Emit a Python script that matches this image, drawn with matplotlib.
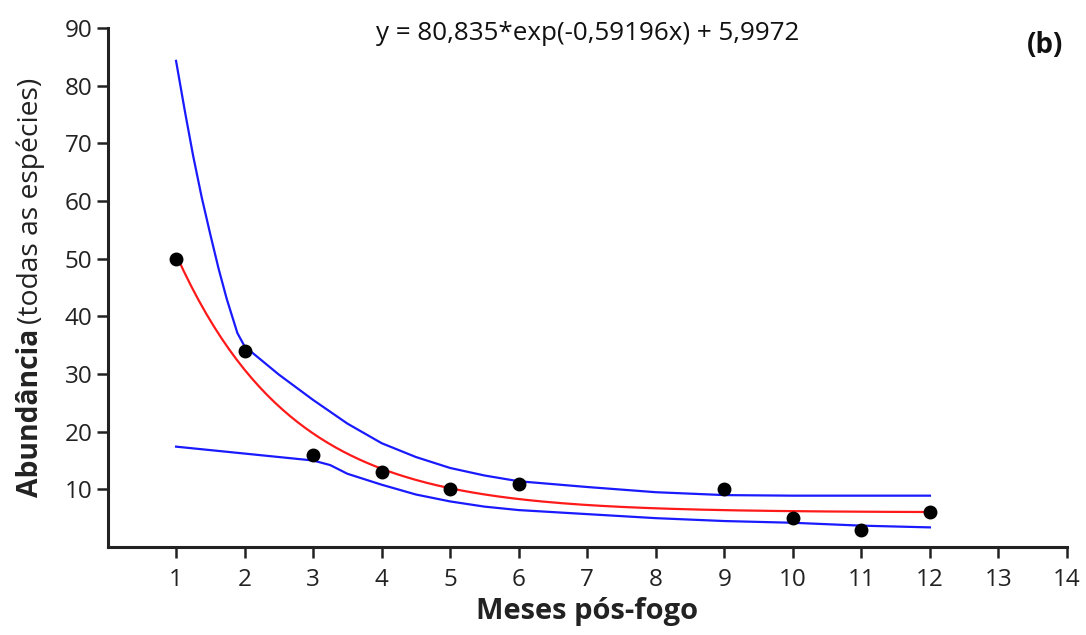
import numpy as np
import matplotlib.pyplot as plt

plt.rcParams['font.family'] = ['Open Sans', 'DejaVu Sans']

# observed abundance per month after fire
meses = [1, 2, 3, 4, 5, 6, 9, 10, 11, 12]
abund = [50, 34, 16, 13, 10, 11, 10, 5, 3, 6]

# fitted model shown on the chart: y = a*exp(b*x) + c
a, b, c = 80.835, -0.59196, 5.9972

# confidence bands
sup_x = [1.0, 1.13, 1.25, 1.375, 1.5, 1.62, 1.74, 1.895, 2.0, 2.5, 3.0, 3.5, 4.0, 4.5, 5.0, 5.5, 6.0, 7.0, 8.0, 9.0, 10.0, 11.0, 12.0]
sup_y = [84.3, 75.5, 67.8, 60.6, 54.2, 48.3, 43.0, 37.1, 34.8, 29.9, 25.5, 21.4, 18.0, 15.6, 13.7, 12.4, 11.4, 10.4, 9.5, 9.0, 8.9, 8.9, 8.9]
inf_x = [1.0, 1.5, 2.0, 2.5, 3.0, 3.25, 3.5, 4.0, 4.5, 5.0, 5.5, 6.0, 7.0, 8.0, 9.0, 10.0, 11.0, 12.0]
inf_y = [17.4, 16.8, 16.2, 15.6, 15.0, 14.2, 12.7, 10.8, 9.1, 7.9, 7.0, 6.4, 5.7, 5.0, 4.5, 4.2, 3.7, 3.4]

fig = plt.figure(figsize=(10.86, 6.35), dpi=100)
ax = fig.add_axes([0.099, 0.1386, 0.8835, 0.8173])

xs = np.linspace(1, 12, 200)
ax.plot(xs, a * np.exp(b * xs) + c, color='#ff1a1a', lw=1.6, zorder=2)
ax.plot(sup_x, sup_y, color='#1a1aff', lw=1.6, zorder=2)
ax.plot(inf_x, inf_y, color='#1a1aff', lw=1.6, zorder=2)
ax.plot(meses, abund, 'o', color='black', ms=9, zorder=3)

ax.set_xlim(0, 14)
ax.set_ylim(0, 90)
ax.set_xticks(range(1, 15))
ax.set_yticks(range(10, 91, 10))
for s in ['top', 'right']:
    ax.spines[s].set_visible(False)
for s in ['left', 'bottom']:
    ax.spines[s].set_linewidth(2.2)
    ax.spines[s].set_color('#222222')
ax.tick_params(axis='both', direction='out', length=8, width=1.8, color='#222222',
               labelsize=17.5, labelcolor='#222222', pad=7)
ax.tick_params(axis='y', pad=3)

ax.set_xlabel('Meses pós-fogo', fontsize=21, fontweight='bold', color='#222222', labelpad=4)

ax.text(0.541, 0.948, 'y = 80,835*exp(-0,59196x) + 5,9972', transform=fig.transFigure,
        ha='center', va='center', fontsize=18.7, color='#111111')
ax.text(0.979, 0.928, '(b)', transform=fig.transFigure, ha='right', va='center',
        fontsize=20, fontweight='bold', color='#111111')

# y label with bold and regular parts
t1 = fig.text(0.028, 1 - 497 / 635, 'Abundância', rotation=90, ha='center', va='bottom',
              fontsize=20.3, fontweight='bold', color='#222222')
fig.canvas.draw()
bb = t1.get_window_extent().transformed(fig.transFigure.inverted())
fig.text(0.028, bb.y1 + 0.008, '(todas as espécies)', rotation=90, ha='center', va='bottom',
         fontsize=20.3, color='#222222')

fig.savefig('out.png', dpi=100)
